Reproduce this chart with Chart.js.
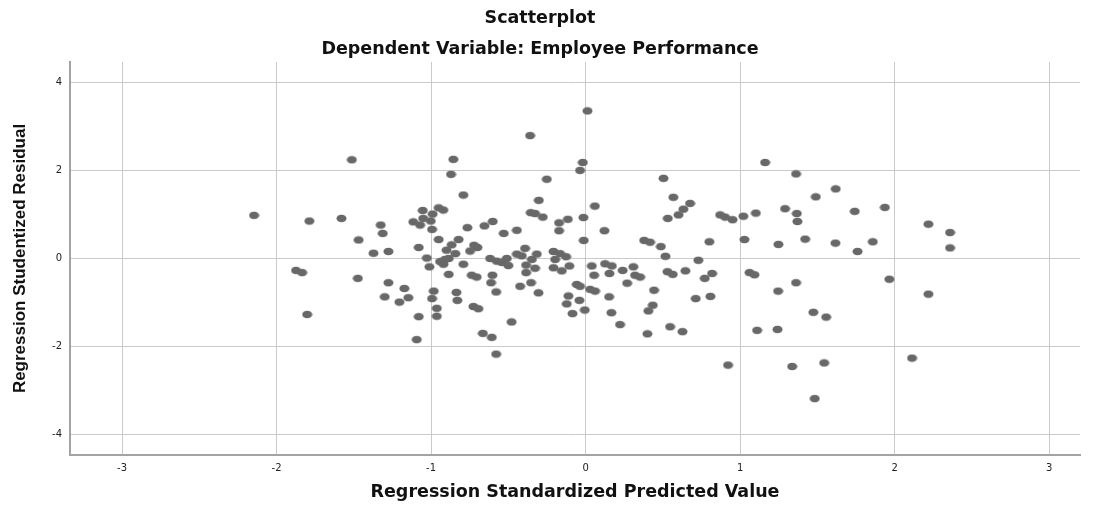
<!DOCTYPE html>
<html>
<head>
<meta charset="utf-8">
<script src="https://cdn.jsdelivr.net/npm/chart.js@4"></script>
<style>
  html, body { margin: 0; padding: 0; background: #fff; }
  #wrap { width: 1095px; height: 511px; }
</style>
</head>
<body>
<div id="wrap"><canvas id="chartResid" width="1095" height="511"></canvas></div>
<script>
// standardized predicted value (x) and studentized residual (y)
const predicted = [
  -1.513, -2.146, -1.788, -1.580, -1.326, -1.313, -1.469, -1.373, -1.276, -1.874,
  -1.835, -1.474, -1.276, -1.300, -1.802, -0.856, -0.871, -0.791, -1.054, -0.951,
  -0.921, -0.990, -1.051, -1.115, -1.071, -1.002, -0.994, -0.765, -0.655, -0.601,
  -0.530, -0.951, -0.822, -0.867, -0.900, -0.843, -0.722, -0.700, -0.748, -1.080,
  -1.028, -0.942, -0.886, -0.618, -0.575, -0.510, -1.011, -0.920, -0.791, -0.886,
  -0.542, -0.500, -0.737, -0.705, -0.603, -0.612, -0.579, -1.173, -1.147, -1.205,
  -0.983, -0.994, -0.836, -0.830, -0.963, -0.963, -1.080, -0.726, -0.694, -1.093,
  -0.665, -0.607, -0.579, -0.479, 0.012, -0.359, -0.018, -0.036, -0.251, -0.303,
  0.060, -0.355, -0.327, -0.277, -0.172, -0.115, -0.014, -0.445, -0.172, 0.122,
  -0.012, -0.392, -0.445, -0.413, -0.316, -0.348, -0.208, -0.165, -0.126, -0.197,
  -0.385, -0.327, -0.385, -0.208, -0.154, -0.105, -0.424, -0.353, -0.305, -0.057,
  -0.036, 0.040, 0.055, 0.029, 0.061, -0.111, -0.122, -0.040, -0.085, -0.005,
  0.126, 0.170, 0.154, 0.240, 0.269, 0.152, 0.167, 0.223, 1.162, 0.504,
  1.362, 0.568, 0.676, 0.633, 0.601, 0.532, 0.871, 0.903, 0.951, 1.021,
  1.102, 1.291, 1.367, 1.371, 0.379, 0.417, 0.487, 0.517, 0.801, 1.028,
  1.248, 0.730, 0.309, 0.320, 0.353, 0.530, 0.564, 0.646, 0.771, 0.819,
  0.443, 0.435, 0.406, 0.713, 0.808, 0.400, 0.547, 0.627, 1.061, 1.093,
  1.246, 1.362, 1.110, 1.242, 0.922, 1.337, 1.619, 1.490, 1.742, 1.937,
  1.421, 1.617, 1.760, 1.859, 2.219, 2.359, 2.359, 1.966, 2.219, 1.474,
  1.557, 2.113, 1.544, 1.483, -0.910
];
const residual = [
  2.24, 0.98, 0.85, 0.91, 0.76, 0.57, 0.42, 0.12, 0.16, -0.27,
  -0.32, -0.45, -0.55, -0.87, -1.27, 2.25, 1.91, 1.44, 1.09, 1.15,
  1.10, 1.01, 0.91, 0.83, 0.76, 0.85, 0.66, 0.70, 0.74, 0.84,
  0.57, 0.43, 0.43, 0.31, 0.19, 0.11, 0.30, 0.25, 0.17, 0.25,
  0.01, -0.07, 0.00, 0.00, -0.06, 0.00, -0.19, -0.13, -0.13, -0.36,
  -0.09, -0.16, -0.38, -0.42, -0.38, -0.55, -0.76, -0.68, -0.89, -0.99,
  -0.74, -0.91, -0.77, -0.95, -1.13, -1.31, -1.32, -1.09, -1.14, -1.84,
  -1.70, -1.79, -2.17, -1.44, 3.35, 2.79, 2.18, 2.00, 1.80, 1.32,
  1.19, 1.04, 1.02, 0.94, 0.81, 0.89, 0.93, 0.64, 0.63, 0.63,
  0.41, 0.23, 0.10, 0.06, 0.10, -0.02, 0.16, 0.11, 0.04, -0.02,
  -0.15, -0.22, -0.32, -0.21, -0.28, -0.17, -0.63, -0.55, -0.78, -0.59,
  -0.63, -0.17, -0.38, -0.70, -0.74, -0.85, -1.03, -0.95, -1.25, -1.17,
  -0.12, -0.17, -0.34, -0.27, -0.56, -0.87, -1.23, -1.50, 2.18, 1.82,
  1.92, 1.39, 1.25, 1.12, 0.99, 0.91, 0.99, 0.94, 0.88, 0.96,
  1.03, 1.13, 1.02, 0.84, 0.41, 0.37, 0.27, 0.05, 0.38, 0.43,
  0.32, -0.04, -0.19, -0.38, -0.42, -0.30, -0.36, -0.28, -0.45, -0.34,
  -0.72, -1.06, -1.19, -0.91, -0.86, -1.71, -1.55, -1.66, -0.32, -0.37,
  -0.74, -0.55, -1.63, -1.61, -2.42, -2.45, 1.58, 1.40, 1.07, 1.16,
  0.44, 0.35, 0.16, 0.38, 0.78, 0.59, 0.24, -0.47, -0.81, -1.22,
  -1.33, -2.26, -2.37, -3.18, -0.02
];
const xTicks = [-3, -2, -1, 0, 1, 2, 3];
const yTicks = [-4, -2, 0, 2, 4];

const titleText = "Scatterplot";
const subtitleText = "Dependent Variable: Employee Performance";
const xTitle = "Regression Standardized Predicted Value";
const yTitle = "Regression Studentized Residual";

// the markers in the original are a bit wider than tall
function makeDot(){
  const c = document.createElement("canvas");
  c.width = 11; c.height = 9;
  const g = c.getContext("2d");
  g.fillStyle = "#686868";
  g.beginPath();
  g.ellipse(5.5, 4.5, 5, 3.8, 0, 0, Math.PI * 2);
  g.fill();
  return c;
}

const pts = predicted.map((x, i) => ({ x, y: residual[i] }));
const titleFont = { family: "DejaVu Sans", weight: "bold", size: 17.5 };
const gridCol = "#cacaca";
const axisCol = "#a3a3a3";

new Chart(document.getElementById("chartResid"), {
  type: "scatter",
  data: {
    datasets: [{
      data: pts,
      pointStyle: makeDot(),
      pointRadius: 5,
      backgroundColor: "#686868",
      borderWidth: 0
    }]
  },
  options: {
    responsive: false,
    animation: false,
    events: [],
    layout: { padding: { top: 0, right: 15, bottom: 0, left: 0 } },
    plugins: {
      legend: { display: false },
      tooltip: { enabled: false },
      title: {
        display: true, text: titleText, color: "#111",
        font: titleFont, padding: { top: 8, bottom: 6 }
      },
      subtitle: {
        display: true, text: subtitleText, color: "#111",
        font: titleFont, padding: { top: 4, bottom: 2 }
      }
    },
    scales: {
      x: {
        type: "linear", min: -3.337, max: 3.2,
        afterBuildTicks: s => { s.ticks = xTicks.map(v => ({ value: v })); },
        afterFit: s => { s.height = 56; },
        grid: { color: gridCol, drawTicks: false },
        border: { color: axisCol, width: 2 },
        ticks: { color: "#222", padding: 7, font: { family: "DejaVu Sans", size: 10 } },
        title: {
          display: true, text: xTitle, color: "#111",
          font: titleFont, padding: { top: 0, bottom: 8 }
        }
      },
      y: {
        type: "linear", min: -4.46, max: 4.46,
        afterBuildTicks: s => { s.ticks = yTicks.map(v => ({ value: v })); },
        afterFit: s => { s.width = 70; },
        grid: { color: gridCol, drawTicks: false },
        border: { color: axisCol, width: 2 },
        ticks: { color: "#222", padding: 8, font: { family: "DejaVu Sans", size: 10 } },
        title: {
          display: true, text: yTitle, color: "#111",
          font: { family: "Liberation Sans", weight: "bold", size: 17 },
          padding: { top: 10, bottom: 0 }
        }
      }
    }
  }
});
</script>
</body>
</html>
